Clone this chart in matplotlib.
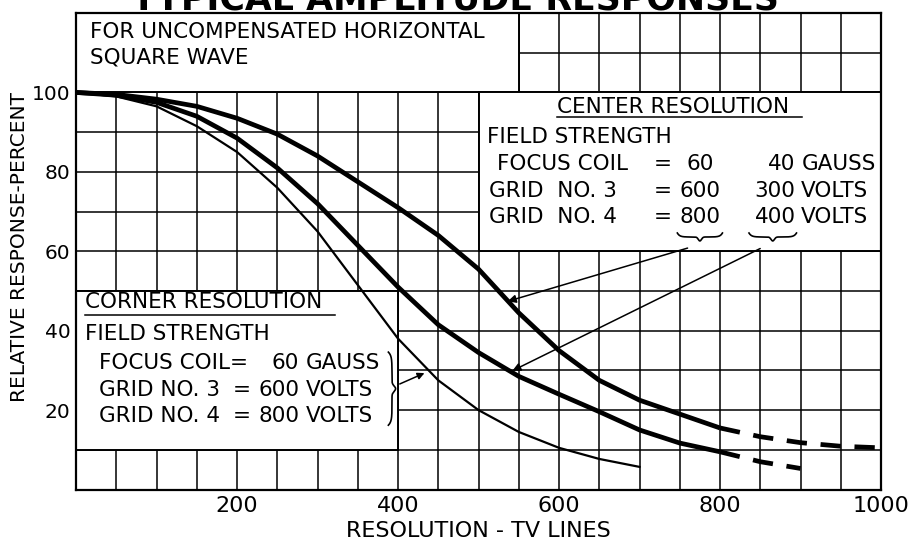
import numpy as np
import matplotlib
matplotlib.use("Agg")
import matplotlib.pyplot as plt
from matplotlib.patches import Rectangle

# ------------------------------------------------------------
# data (resolution in TV lines, response in %)
# ------------------------------------------------------------
x_solid = [0, 50, 100, 150, 200, 250, 300, 350, 400, 450, 500, 550, 600, 650, 700, 750, 800]
center_60 = [100, 99.5, 98.3, 96.5, 93.5, 89.5, 84, 77.5, 71, 64, 55.5, 44.5, 35, 27.5, 22.5, 19, 15.5]
center_40 = [100, 99.3, 97.5, 94, 88.5, 81, 72, 61.5, 51, 41.5, 34.5, 28.5, 24, 19.6, 15, 11.7, 9.5]

x_dash_60 = [800, 850, 900, 950, 1000]
dash_60 = [15.5, 13.3, 11.8, 10.9, 10.5]
x_dash_40 = [800, 850, 900]
dash_40 = [9.5, 7, 5.3]

x_corner = [0, 50, 100, 150, 200, 250, 300, 350, 400, 450, 500, 550, 600, 650, 700]
corner_60 = [100, 99, 96.5, 91.5, 85, 76, 65, 51.5, 38, 27.5, 20, 14.5, 10.5, 7.7, 5.7]

x_ticks = [200, 400, 600, 800, 1000]
y_ticks = [20, 40, 60, 80, 100]

FS = 15.5


def brace(ax, x0, x1, y0, y1, horizontal=True, lw=1.2):
    # curly brace: ends at (x0/y0) side, tip in the middle at the (x1/y1) side
    t = np.linspace(0, 1, 300)
    ends = 0.5 * (1 - np.exp(-t / 0.05)) * (1 - np.exp(-(1 - t) / 0.05))
    tip = 0.5 * np.exp(-((t - 0.5) / 0.05) ** 2)
    p = ends + tip
    if horizontal:
        xs = x0 + (x1 - x0) * t
        ys = y0 + (y1 - y0) * p
    else:
        ys = y0 + (y1 - y0) * t
        xs = x0 + (x1 - x0) * p
    ax.plot(xs, ys, color="black", lw=lw, zorder=5)


fig = plt.figure(figsize=(9.14, 5.45), dpi=100)
ax = fig.add_axes([0.0832, 0.1018, 0.8807, 0.8743])

ax.set_xlim(0, 1000)
ax.set_ylim(0, 120)
ax.set_xticks(np.arange(0, 1001, 50))
ax.set_yticks(np.arange(0, 121, 10))
ax.set_xticklabels([str(v) if v in x_ticks else "" for v in np.arange(0, 1001, 50)], fontsize=16)
ax.set_yticklabels([str(v) if v in y_ticks else "" for v in np.arange(0, 121, 10)], fontsize=14.5)
ax.tick_params(axis="x", length=0, pad=5)
ax.tick_params(axis="y", length=0, pad=4)
ax.grid(True, color="black", lw=1.1)
ax.set_axisbelow(True)
for s in ax.spines.values():
    s.set_linewidth(1.6)

# blank boxes that hold the notes
for (bx, by, bw, bh) in [(0, 100, 550, 20), (500, 60, 500, 40), (0, 10, 400, 40)]:
    ax.add_patch(Rectangle((bx, by), bw, bh, facecolor="white", edgecolor="black", lw=1.4, zorder=2))

# curves
ax.plot(x_solid, center_60, color="black", lw=3.4, zorder=3, solid_capstyle="butt")
ax.plot(x_solid, center_40, color="black", lw=3.4, zorder=3, solid_capstyle="butt")
ax.plot(x_dash_60, dash_60, color="black", lw=3.4, ls=(0, (4.3, 2.9)), zorder=3)
ax.plot(x_dash_40, dash_40, color="black", lw=3.4, ls=(0, (4.3, 2.9)), zorder=3)
ax.plot(x_corner, corner_60, color="black", lw=1.6, zorder=3)

ax.set_xlabel("RESOLUTION - TV LINES", fontsize=16, labelpad=3)
ax.set_ylabel("RELATIVE RESPONSE-PERCENT", fontsize=14.5)
ax.yaxis.set_label_coords(-0.058, 0.51)

fig.text(0.498, 1 - 10 / 545, "TYPICAL AMPLITUDE RESPONSES", fontsize=25, fontweight="bold",
         ha="center", va="baseline")

# top-left note
ax.text(17, 113.8, "FOR UNCOMPENSATED HORIZONTAL", fontsize=FS, zorder=4)
ax.text(17, 107.3, "SQUARE WAVE", fontsize=FS, zorder=4)

# center resolution note
ax.text(597, 94.9, "CENTER RESOLUTION", fontsize=FS, zorder=4)
ax.plot([597, 902], [93.9, 93.9], color="black", lw=1.1, zorder=4)
ax.text(511, 87.2, "FIELD STRENGTH", fontsize=FS, zorder=4)
rows_c = [("FOCUS COIL", "60", "40", "GAUSS", 80.4, 523),
          ("GRID  NO. 3", "600", "300", "VOLTS", 73.6, 513),
          ("GRID  NO. 4", "800", "400", "VOLTS", 67.0, 513)]
for lab, v1, v2, unit, yy, xs in rows_c:
    ax.text(xs, yy, lab, fontsize=FS, zorder=4)
    ax.text(729, yy, "=", fontsize=FS, zorder=4, ha="center")
    ax.text(775, yy, v1, fontsize=FS, zorder=4, ha="center")
    ax.text(894, yy, v2, fontsize=FS, zorder=4, ha="right")
    ax.text(901, yy, unit, fontsize=FS, zorder=4)
brace(ax, 747, 803, 64.6, 62.6)
brace(ax, 836, 895, 64.6, 62.6)
ax.annotate("", xy=(533, 47.2), xytext=(763, 61.0),
            arrowprops=dict(arrowstyle="-|>", color="black", lw=1.1, mutation_scale=12), zorder=5)
ax.annotate("", xy=(539, 29.6), xytext=(853, 61.0),
            arrowprops=dict(arrowstyle="-|>", color="black", lw=1.1, mutation_scale=12), zorder=5)

# corner resolution note
ax.text(11, 45.8, "CORNER RESOLUTION", fontsize=FS, zorder=4)
ax.plot([11, 322], [43.9, 43.9], color="black", lw=1.1, zorder=4)
ax.text(11, 37.6, "FIELD STRENGTH", fontsize=FS, zorder=4)
rows_k = [("FOCUS COIL=", "", "60", "GAUSS", 30.3),
          ("GRID NO. 3", "=", "600", "VOLTS", 23.5),
          ("GRID NO. 4", "=", "800", "VOLTS", 17.0)]
for lab, eq, val, unit, yy in rows_k:
    ax.text(29, yy, lab, fontsize=FS, zorder=4)
    ax.text(206, yy, eq, fontsize=FS, zorder=4, ha="center")
    ax.text(277, yy, val, fontsize=FS, zorder=4, ha="right")
    ax.text(285, yy, unit, fontsize=FS, zorder=4)
brace(ax, 388, 397, 34.6, 16.2, horizontal=False)
ax.annotate("", xy=(436, 29.6), xytext=(399, 26.3),
            arrowprops=dict(arrowstyle="-|>", color="black", lw=1.1, mutation_scale=10), zorder=5)

fig.savefig("out.png", dpi=100)
